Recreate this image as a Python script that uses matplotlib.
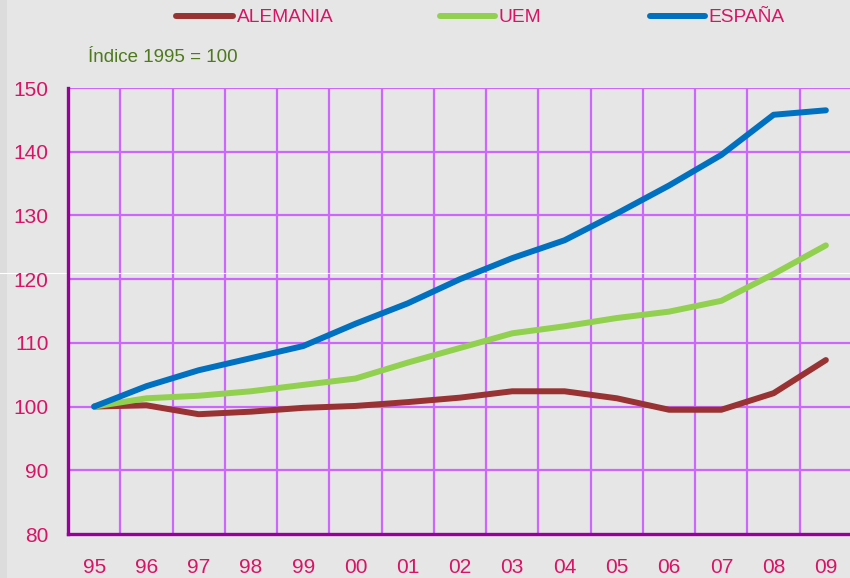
import matplotlib
matplotlib.use("Agg")
import matplotlib.pyplot as plt
from matplotlib.lines import Line2D
from matplotlib.patches import Rectangle

years = ["95", "96", "97", "98", "99", "00", "01", "02", "03", "04", "05", "06", "07", "08", "09"]
alemania = [100, 100.2, 98.8, 99.2, 99.8, 100.1, 100.7, 101.4, 102.4, 102.4, 101.3, 99.5, 99.5, 102.1, 107.3]
uem = [100, 101.3, 101.7, 102.4, 103.4, 104.4, 106.9, 109.2, 111.5, 112.6, 113.9, 114.9, 116.6, 120.8, 125.3]
espana = [100, 103.2, 105.7, 107.6, 109.5, 113.0, 116.2, 120.0, 123.3, 126.1, 130.3, 134.7, 139.5, 145.8, 146.5]
yticks = [80, 90, 100, 110, 120, 130, 140, 150]

W, H = 850, 578
bg = "#e6e6e6"
pink = "#d81466"
grid_c = "#cc66ff"
spine_c = "#990099"
c_ale, c_uem, c_esp = "#993333", "#92d050", "#0070c0"

fig = plt.figure(figsize=(W / 100, H / 100), dpi=100, facecolor=bg)
fig.add_artist(Rectangle((0, 0), 7 / W, 1, transform=fig.transFigure, color="#dcdcdc", zorder=-1, lw=0))
ax = fig.add_axes([68 / W, (H - 534) / H, (852 - 68) / W, (534 - 88) / H], facecolor=bg)

x = list(range(len(years)))
for vals, col in [(alemania, c_ale), (uem, c_uem), (espana, c_esp)]:
    ax.plot(x, vals, color=col, lw=4.3, solid_capstyle="round", solid_joinstyle="round", zorder=3)

ax.set_xlim(-0.5, len(years) - 0.5)
ax.set_ylim(80, 150)
ax.set_yticks(yticks)
ax.set_xticks(x)
ax.set_xticklabels(years)
ax.grid(False)
for v in yticks[1:]:
    ax.axhline(v, color=grid_c, lw=1.6, zorder=1)
for i in range(len(years) - 1):
    ax.axvline(i + 0.5, color=grid_c, lw=1.6, zorder=1)
# thin white artifact line of the original
ax.axhline(121.0, color="white", lw=0.8, zorder=2)
fig.add_artist(Line2D([0, 68 / W], [1 - 273 / H] * 2, color="white", lw=0.8, transform=fig.transFigure, zorder=0))

ax.tick_params(axis="both", which="both", length=0, labelcolor=pink, labelsize=15)
ax.tick_params(axis="y", pad=14)
ax.tick_params(axis="x", pad=17)
for lab in ax.get_xticklabels() + ax.get_yticklabels():
    lab.set_family(["Liberation Sans", "DejaVu Sans"])

for s in ["top", "right"]:
    ax.spines[s].set_visible(False)
for s in ["left", "bottom"]:
    ax.spines[s].set_color(spine_c)
    ax.spines[s].set_linewidth(2.4)
    ax.spines[s].set_zorder(4)

# legend
ly = 1 - 16 / H
for (x0, x1, tx, lab, col) in [(176, 233, 237, "ALEMANIA", c_ale), (440, 495, 498, "UEM", c_uem), (650, 705, 708, "ESPAÑA", c_esp)]:
    fig.add_artist(Line2D([x0 / W, x1 / W], [ly, ly], color=col, lw=4.3, solid_capstyle="round", transform=fig.transFigure))
    fig.text(tx / W, ly - 1 / H, lab, color=pink, fontsize=13.8, va="center", ha="left",
             family=["Liberation Sans Narrow", "Liberation Sans", "DejaVu Sans"])

fig.text(88 / W, 1 - 57 / H, "Índice 1995 = 100", color="#4e7a1c", fontsize=13.5, va="center", ha="left",
         family=["Liberation Sans Narrow", "Liberation Sans", "DejaVu Sans"])

fig.savefig("out.png", dpi=100, facecolor=bg)
